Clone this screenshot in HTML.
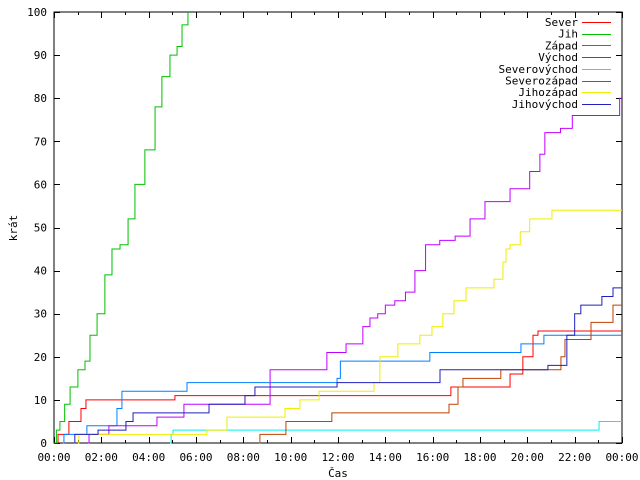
<!DOCTYPE html>
<html><head><meta charset="utf-8"><style>
body{margin:0;background:#fff}
svg{display:block}
text{font-family:"DejaVu Sans Mono","Liberation Mono",monospace;font-size:11px;fill:#000}
</style></head><body>
<svg id="chart" width="640" height="480" viewBox="0 0 640 480" xmlns="http://www.w3.org/2000/svg">
<g id="grid"></g>
<g id="series"></g>
<g id="legend"></g>
<text transform="translate(17,228) rotate(-90)" text-anchor="middle">krát</text>
<text x="338" y="477" text-anchor="middle">Čas</text>
</svg>
<script>
const seriesNames=["Sever","Jih","Západ","Východ","Severovýchod","Severozápad","Jihozápad","Jihovýchod"];
const seriesColors=["#ff0000","#00c000","#0080ff","#c000ff","#00eeee","#c04000","#eeee00","#2020c0"];
const xTickLabels=["00:00","02:00","04:00","06:00","08:00","10:00","12:00","14:00","16:00","18:00","20:00","22:00","00:00"];
const yTickLabels=[0,10,20,30,40,50,60,70,80,90,100];
// [hour, value]: value becomes v at hour h
const sever=[[0,0],[0.17,2],[0.63,5],[1.14,8],[1.35,10],[5.11,11],[16.77,13],[19.27,16],[19.81,20],[20.24,25],[20.45,26]];
const jih=[[0,0],[0.1,3],[0.25,5],[0.45,9],[0.68,13],[1.01,17],[1.31,19],[1.52,25],[1.82,30],[2.15,39],[2.45,45],[2.79,46],[3.13,52],[3.42,60],[3.84,68],[4.27,78],[4.56,85],[4.9,90],[5.2,92],[5.41,97],[5.66,100]];
const zapad=[[0.38,0],[0.42,2],[1.39,4],[2.66,8],[2.87,12],[5.62,14],[11.96,15],[12.1,19],[15.88,21],[19.73,23],[20.7,25]];
const vychod=[[1.44,0],[1.48,2],[2.32,4],[4.35,6],[5.49,9],[9.13,17],[11.53,21],[12.34,23],[13.05,27],[13.35,29],[13.68,30],[14.0,32],[14.4,33],[14.85,35],[15.25,40],[15.7,46],[16.3,47],[16.95,48],[17.58,52],[18.21,56],[19.27,59],[20.1,63],[20.53,67],[20.74,72],[21.4,73],[21.9,76],[23.7,76],[23.9,80]];
const severovychod=[[4.9,0],[4.95,2],[5.03,3],[23.03,5]];
const severozapad=[[8.66,0],[8.7,2],[9.8,5],[11.74,7],[16.69,9],[17.07,13],[17.28,15],[18.88,17],[21.42,20],[21.59,24],[22.69,28],[23.62,32]];
const jihozapad=[[1.01,0],[1.05,2],[6.46,3],[7.31,6],[9.76,8],[10.39,10],[11.2,12],[13.52,14],[13.77,20],[14.53,23],[15.46,25],[15.97,27],[16.43,30],[16.9,33],[17.41,36],[18.59,38],[18.97,42],[19.1,45],[19.27,46],[19.7,49],[20.1,52],[21.04,54]];
const jihovychod=[[0.84,0],[0.88,2],[1.86,3],[3.04,5],[3.34,7],[6.55,9],[8.07,11],[8.49,13],[11.96,14],[16.31,17],[20.87,18],[21.67,25],[22.0,30],[22.26,32],[23.15,34],[23.62,36]];
const allSeries=[sever,jih,zapad,vychod,severovychod,severozapad,jihozapad,jihovychod];

const X0=54,X1=622,Y0=443,Y1=12;
const xs=h=>X0+(h/24)*(X1-X0);
const ys=v=>Y0-(v/100)*(Y0-Y1);
const NS="http://www.w3.org/2000/svg";
function mk(tag,attrs,parent){const e=document.createElementNS(NS,tag);for(const k in attrs)e.setAttribute(k,attrs[k]);parent.appendChild(e);return e;}
const grid=document.getElementById('grid');
const frame=mk('rect',{x:X0,y:Y1,width:X1-X0,height:Y0-Y1,fill:'none',stroke:'#000','stroke-width':1},grid);


for(let h=0;h<=24;h++){
  const x=Math.round(xs(h))+0.5,len=(h%2===0)?6:3;
  const t=mk('path',{d:`M${x} ${Y0}V${Y0-len}M${x} ${Y1}V${Y1+len}`,stroke:'#000'},grid);
  
  
}
xTickLabels.forEach((l,i)=>{
  const t=mk('text',{x:xs(i*2),y:461,'text-anchor':'middle'},grid);t.textContent=l;
  
  
});
yTickLabels.forEach(v=>{
  const y=Math.round(ys(v))+0.5;
  const t=mk('path',{d:`M${X0} ${y}H${X0+6}M${X1} ${y}H${X1-6}`,stroke:'#000'},grid);
  
  
  const l=mk('text',{x:47,y:ys(v)+4,'text-anchor':'end'},grid);l.textContent=v;
  
  
});
const sg=document.getElementById('series');
allSeries.forEach((s,i)=>{
  let d=`M${xs(s[0][0])} ${ys(0)}`;let prev=0;
  s.forEach(([h,v])=>{d+=`H${xs(h)}V${ys(Math.min(v,100))}`;prev=v;});
  if(prev<100)d+=`H${X1}`;
  const p=mk('path',{d:d,fill:'none',stroke:seriesColors[i],'stroke-width':1},sg);
  
  
});
const lg=document.getElementById('legend');
seriesNames.forEach((n,i)=>{
  const y=22+i*11.7;
  const t=mk('text',{x:578,y:y+4,'text-anchor':'end'},lg);t.textContent=n;
  
  
  const l=mk('line',{x1:582,x2:611,y1:Math.round(y)+0.5,y2:Math.round(y)+0.5,stroke:seriesColors[i]},lg);
  
  
});
</script>
</body></html>
